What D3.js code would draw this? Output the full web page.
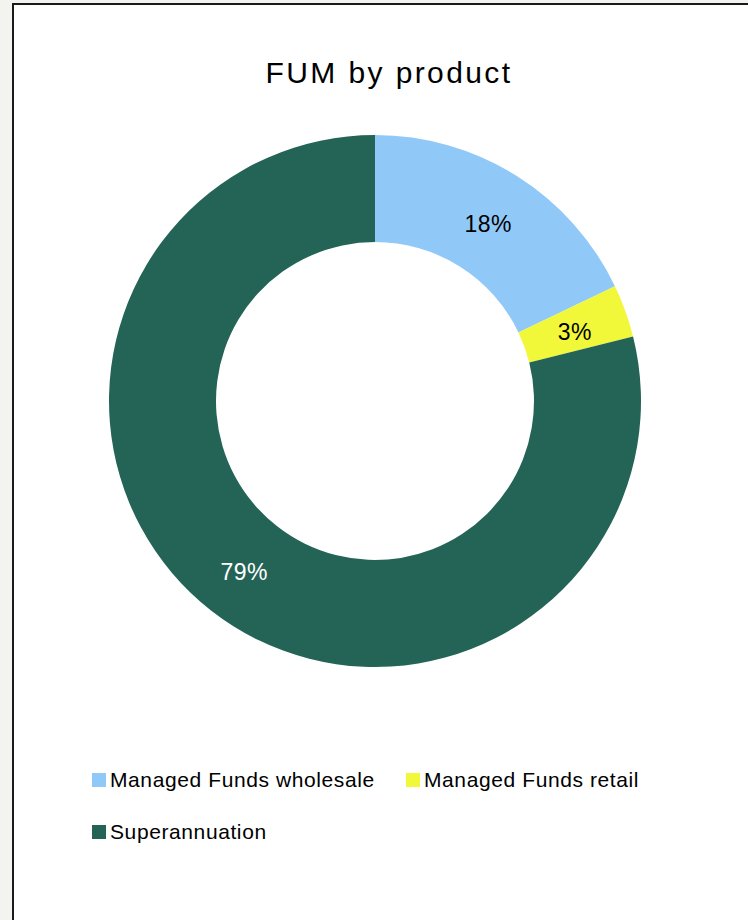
<!DOCTYPE html>
<html><head><meta charset="utf-8">
<script src="https://cdn.jsdelivr.net/npm/d3@7"></script>
<style>
html,body{margin:0;padding:0;background:#f3f3ef;}
svg{display:block;}
</style></head>
<body>
<script>
const categories = ["Managed Funds wholesale", "Managed Funds retail", "Superannuation"];
const values = [17.9, 3.2, 78.9];
const labels = ["18%", "3%", "79%"];
const colors = ["#90c9f8", "#f1f83a", "#246457"];
const labelColors = ["#000000", "#000000", "#ffffff"];

const W = 748, H = 920;
const svg = d3.select("body").append("svg").attr("width", W).attr("height", H);
svg.append("rect").attr("x", 0).attr("y", 0).attr("width", W).attr("height", H).attr("fill", "#f3f3ef");
svg.append("rect").attr("x", 13).attr("y", 4).attr("width", W + 20).attr("height", H + 20)
  .attr("fill", "#ffffff").attr("stroke", "#1a1a1a").attr("stroke-width", 2);

const font = "'Liberation Sans', Arial, sans-serif";
svg.append("text").attr("x", 389).attr("y", 83).attr("text-anchor", "middle")
  .attr("font-family", font).attr("font-size", 30).attr("letter-spacing", "2.4px")
  .attr("fill", "#000").text("FUM by product");

const cx = 375, cy = 401, rOut = 266, rIn = 159;
const pie = d3.pie().sort(null).value(d => d)(values);
const arc = d3.arc().innerRadius(rIn).outerRadius(rOut);
const g = svg.append("g").attr("transform", `translate(${cx},${cy})`);
g.selectAll("path").data(pie).join("path").attr("d", arc).attr("fill", (d, i) => colors[i]);
g.selectAll("text").data(pie).join("text")
  .attr("transform", d => `translate(${arc.centroid(d)})`)
  .attr("text-anchor", "middle").attr("dy", "0.48em")
  .attr("font-family", font).attr("font-size", 23).attr("letter-spacing", "0.5px")
  .attr("fill", (d, i) => labelColors[i]).text((d, i) => labels[i]);

const legendPos = [[92, 780], [406, 780], [92, 832]];
const lg = svg.append("g");
categories.forEach((c, i) => {
  const [x, y] = legendPos[i];
  lg.append("rect").attr("x", x).attr("y", y - 7).attr("width", 14).attr("height", 14).attr("fill", colors[i]);
  lg.append("text").attr("x", x + 18).attr("y", y + 7)
    .attr("font-family", font).attr("font-size", 21).attr("letter-spacing", "0.6px")
    .attr("fill", "#000").text(c);
});
</script>
</body></html>
